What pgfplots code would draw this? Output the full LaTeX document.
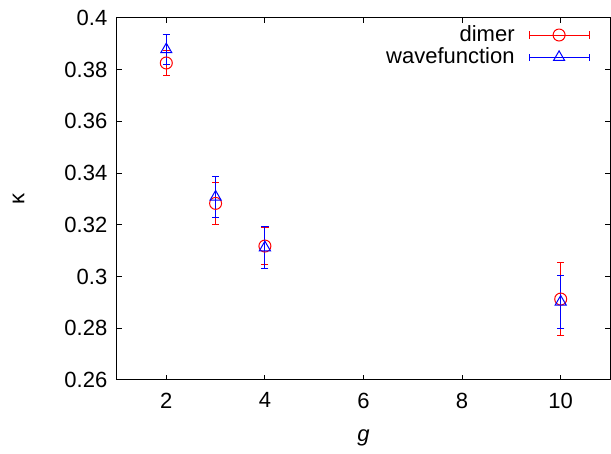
\documentclass[border=0pt]{standalone}
\usepackage{pgfplots}
\pgfplotsset{compat=1.18}
\usepackage{fontspec}
\setmainfont{Liberation Sans}
\usetikzlibrary{calc}

\pgfplotsset{
  gpleg/.style={legend image code/.code={
    \draw[##1,sharp plot,mark=none] (0pt,0pt) -- (30pt,0pt)
      (0pt,-1.8pt) -- (0pt,1.8pt) (30pt,-1.8pt) -- (30pt,1.8pt);
    \draw[##1,sharp plot] plot coordinates {(15pt,0pt)};
  }},
}

\begin{document}
\begin{tikzpicture}
\fontsize{11}{13}\selectfont
\begin{axis}[
  scale only axis,
  width=246.5pt, height=181pt,
  xmin=1, xmax=11, ymin=0.26, ymax=0.4,
  xtick={2,4,6,8,10},
  ytick={0.26,0.28,0.3,0.32,0.34,0.36,0.38,0.4},
  tick align=inside,
  major tick length=2.5pt,
  axis line style={line width=0.5pt},
  tick style={line width=0.5pt, black},
  /pgf/number format/assume math mode=true,
  yticklabel style={/pgf/number format/fixed, /pgf/number format/precision=2, xshift=-1pt},
  xticklabel style={yshift=-2.5pt},
  xlabel={\textit{g}},
  ylabel={κ},
  xlabel style={yshift=-3pt},
  ylabel shift=12.5pt,
  legend style={draw=none, fill=none, at={(1,1)}, anchor=north east,
    xshift=-7pt, yshift=0.5pt,
    row sep=-2.5pt, column sep=5pt, font=\fontsize{11}{13}\selectfont},
  legend plot pos=right,
  legend cell align=right,
]
\addplot[red, line width=0.5pt, only marks, mark=o, mark size=3pt, gpleg,
  error bars/.cd, y dir=both, y explicit,
  error mark options={rotate=90, mark size=1.8pt, line width=0.5pt, red},
  error bar style={line width=0.5pt}]
  coordinates {
    (2,0.3826) +- (0,0.0048)
    (3,0.3283) +- (0,0.0080)
    (4,0.3118) +- (0,0.0070)
    (10,0.2913) +- (0,0.0140)
  };
\addlegendentry{dimer}
\addplot[blue, line width=0.5pt, only marks, mark=triangle, mark size=3.2pt, gpleg,
  error bars/.cd, y dir=both, y explicit,
  error mark options={rotate=90, mark size=1.8pt, line width=0.5pt, blue},
  error bar style={line width=0.5pt}]
  coordinates {
    (2,0.3878) +- (0,0.0058)
    (3,0.3308) +- (0,0.0080)
    (4,0.3112) +- (0,0.0080)
    (10,0.2902) +- (0,0.0102)
  };
\addlegendentry{wavefunction}
\end{axis}
\path ($(current axis.south west)+(-58.5pt,-34.5pt)$) ($(current axis.north east)+(0.5pt,9pt)$);
\end{tikzpicture}
\end{document}
